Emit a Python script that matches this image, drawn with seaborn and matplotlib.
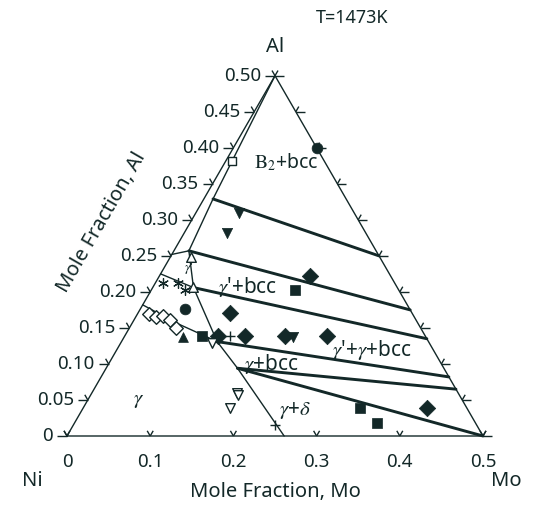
import numpy as np
import pandas as pd
import matplotlib
matplotlib.use("Agg")
import matplotlib.pyplot as plt
import seaborn as sns

sns.set_theme(style="white")
plt.rcParams["font.family"] = ["Noto Sans", "DejaVu Sans"]
plt.rcParams["mathtext.fontset"] = "stix"

INK = "#132828"

# ---------------- data (mole fractions: Mo, Al) ----------------
mo_ticks = [0.0, 0.1, 0.2, 0.3, 0.4, 0.5]
mo_tick_labels = ["0", "0.1", "0.2", "0.3", "0.4", "0.5"]
al_ticks = [0.0, 0.05, 0.10, 0.15, 0.20, 0.25, 0.30, 0.35, 0.40, 0.45, 0.50]
al_tick_labels = ["0", "0.05", "0.10", "0.15", "0.20", "0.25", "0.30", "0.35", "0.40", "0.45", "0.50"]

# thin phase boundaries
b2_edge_mo = [0.0, 0.011]
b2_edge_al = [0.50, 0.329]
b2_gp_mo = [0.011, 0.018]
b2_gp_al = [0.329, 0.257]
gp_top_mo = [0.0, 0.018]
gp_top_al = [0.252, 0.257]
gp_right_mo = [0.018, 0.049]
gp_right_al = [0.257, 0.206]
gp_low_mo = [0.0, 0.049]
gp_low_al = [0.225, 0.206]
gam_top_mo = [0.0, 0.0525, 0.115]
gam_top_al = [0.182, 0.157, 0.131]
tri_left_mo = [0.049, 0.115]
tri_left_al = [0.206, 0.131]
gam_delta_mo = [0.115, 0.158, 0.261]
gam_delta_al = [0.131, 0.094, 0.0]

# thick tie lines (start Mo, start Al, end Mo, end Al)
tie_mo0 = [0.011, 0.018, 0.049, 0.115, 0.158, 0.158]
tie_al0 = [0.329, 0.257, 0.206, 0.131, 0.094, 0.094]
tie_mo1 = [0.250, 0.325, 0.365, 0.418, 0.435, 0.500]
tie_al1 = [0.250, 0.175, 0.135, 0.082, 0.065, 0.000]

# experimental points
diam_mo = [0.181, 0.110, 0.112, 0.145, 0.193, 0.243, 0.413]
diam_al = [0.222, 0.171, 0.139, 0.139, 0.139, 0.139, 0.039]
sq_mo = [0.173, 0.093, 0.333, 0.364]
sq_al = [0.203, 0.139, 0.039, 0.018]
circ_mo = [0.1005, 0.054]
circ_al = [0.400, 0.176]
tdown_mo = [0.052, 0.051, 0.203]
tdown_al = [0.310, 0.282, 0.1375]
tup_mo = [0.071]
tup_al = [0.1375]
osq_mo = [0.007]
osq_al = [0.382]
odiam_mo = [0.014, 0.024, 0.032, 0.043, 0.056]
odiam_al = [0.169, 0.165, 0.167, 0.161, 0.150]
star_mo = [0.009, 0.027, 0.040]
star_al = [0.2125, 0.2125, 0.203]
otup_mo = [0.024, 0.048]
otup_al = [0.249, 0.207]
otdown_mo = [0.110, 0.174, 0.177, 0.177]
otdown_al = [0.129, 0.060, 0.057, 0.039]
plus_mo = [0.127, 0.242]
plus_al = [0.139, 0.0153]

# ---------------- geometry ----------------
S3 = np.sqrt(3) / 2
PX = 1 / 832.0


def tern(mo, al):
    mo = np.asarray(mo, dtype=float)
    al = np.asarray(al, dtype=float)
    return mo + al / 2, al * S3


fig = plt.figure(figsize=(5.45, 5.08), dpi=100)
ax = fig.add_axes([0, 0, 1, 1])
ax.set_xlim(-67 * PX, (545 - 67) * PX)
ax.set_ylim(-72 * PX, (508 - 72) * PX)
ax.set_aspect("equal")
ax.axis("off")


def seg(mo, al, lw):
    x, y = tern(mo, al)
    sns.lineplot(x=x, y=y, sort=False, estimator=None, color=INK, lw=lw,
                 ax=ax, legend=False)


# triangle frame
seg([0, 0.5, 0, 0], [0, 0, 0.5, 0], 1.0)

# ticks
def arm(x, y, ang, L):
    a = np.deg2rad(ang)
    ax.plot([x, x + L * PX * np.cos(a)], [y, y + L * PX * np.sin(a)],
            color=INK, lw=1.0, solid_capstyle="butt")


TFS = 13.5
for a, lab in zip(al_ticks, al_tick_labels):
    x, y = tern(0, a)
    arm(x, y, 180, 10)
    arm(x, y, 120, 6)
    ax.text(x - 14 * PX, y, lab, ha="right", va="center", fontsize=TFS, color=INK)
    xr, yr = tern(0.5 - a, a)
    arm(xr, yr, 0, 9)
    arm(xr, yr, 60, 6)

for m, lab in zip(mo_ticks, mo_tick_labels):
    x, y = tern(m, 0)
    arm(x, y, 60, 6)
    arm(x, y, 120, 6)
    ax.text(x, y - 26 * PX, lab, ha="center", va="center", fontsize=TFS, color=INK)

# phase boundaries
seg(b2_edge_mo, b2_edge_al, 1.0)
seg(b2_gp_mo, b2_gp_al, 1.0)
seg(gp_top_mo, gp_top_al, 1.0)
seg(gp_right_mo, gp_right_al, 1.0)
seg(gp_low_mo, gp_low_al, 1.0)
seg(gam_top_mo, gam_top_al, 1.0)
seg(tri_left_mo, tri_left_al, 1.0)
seg(gam_delta_mo, gam_delta_al, 1.0)
for m0, a0, m1, a1 in zip(tie_mo0, tie_al0, tie_mo1, tie_al1):
    seg([m0, m1], [a0, a1], 2.1)


def pts(mo, al, marker, size, filled=True, lw=1.0):
    x, y = tern(mo, al)
    df = pd.DataFrame({"x": x, "y": y})
    if filled:
        sns.scatterplot(data=df, x="x", y="y", marker=marker, s=size, color=INK,
                        edgecolor=INK, linewidth=0.5, ax=ax, legend=False, zorder=5)
    else:
        sns.scatterplot(data=df, x="x", y="y", marker=marker, s=size, facecolor="white",
                        edgecolor=INK, linewidth=lw, ax=ax, legend=False, zorder=5)


pts(diam_mo, diam_al, "D", 70)
pts(sq_mo, sq_al, "s", 60)
pts(circ_mo, circ_al, "o", 60)
pts(tdown_mo, tdown_al, "v", 55)
pts(tup_mo, tup_al, "^", 50)
pts(osq_mo, osq_al, "s", 38, filled=False)
pts(odiam_mo, odiam_al, "D", 48, filled=False)
pts(otup_mo, otup_al, "^", 48, filled=False)
pts(otdown_mo, otdown_al, "v", 48, filled=False)
x, y = tern(star_mo, star_al)
sns.scatterplot(x=x, y=y, marker=(6, 2, 0), s=50, color=INK, linewidth=0.9, ax=ax,
                legend=False, zorder=5)
x, y = tern(plus_mo, plus_al)
sns.scatterplot(x=x, y=y, marker="+", s=60, color=INK, linewidth=1.0, ax=ax,
                legend=False, zorder=5)

# region labels


def lab(mo, al, s, fs=15):
    x, y = tern(mo, al)
    ax.text(x, y, s, ha="center", va="center", fontsize=fs, color=INK)


lab(0.074, 0.379, r"$\mathrm{B}_{2}$+bcc", fs=14)
lab(0.114, 0.207, r"$\gamma$'+bcc")
lab(0.307, 0.119, r"$\gamma$'+$\gamma$+bcc")
lab(0.196, 0.100, r"$\gamma$+bcc")
lab(0.256, 0.036, r"$\gamma$+$\delta$")
lab(0.060, 0.051, r"$\gamma$")
lab(0.030, 0.234, r"$\gamma$'", fs=10)

# axis titles
AFS = 14.5
fig.text(275 / 545, 1 - 47 / 508, "Al", ha="center", va="center", fontsize=AFS, color=INK)
fig.text(352 / 545, 1 - 18 / 508, "T=1473K", ha="center", va="center", fontsize=13, color=INK)
fig.text(32 / 545, 1 - 481 / 508, "Ni", ha="center", va="center", fontsize=AFS, color=INK)
fig.text(506 / 545, 1 - 481 / 508, "Mo", ha="center", va="center", fontsize=AFS, color=INK)
fig.text(275 / 545, 1 - 492 / 508, "Mole Fraction, Mo", ha="center", va="center",
         fontsize=AFS, color=INK)
fig.text(102 / 545, 1 - 222 / 508, "Mole Fraction, Al", ha="center", va="center",
         fontsize=AFS, color=INK, rotation=60)

fig.savefig("out.png", dpi=100)
